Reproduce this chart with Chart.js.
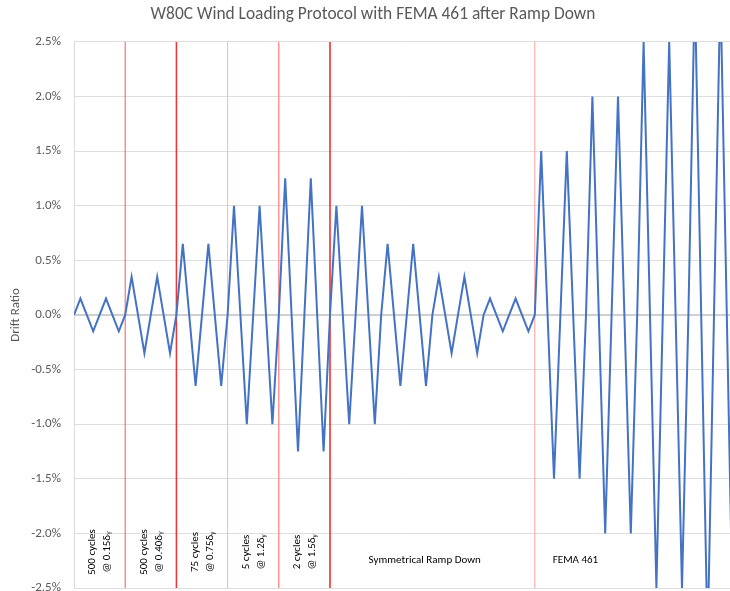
<!DOCTYPE html>
<html>
<head>
<meta charset="utf-8">
<script src="https://cdn.jsdelivr.net/npm/chart.js@4/dist/chart.umd.min.js"></script>
<style>
  html, body { margin: 0; padding: 0; background: #fff; }
  #wrap { width: 730px; height: 591px; position: relative; }
</style>
</head>
<body>
<div id="wrap"><canvas id="protocolChart"></canvas></div>
<script>
// ---- data (drift ratio in %, one value per quarter cycle) ----
const drift = [
  // 500 cycles @ 0.15
  0, 0.15, 0, -0.15, 0, 0.15, 0, -0.15,
  // 500 cycles @ 0.40
  0, 0.35, 0, -0.35, 0, 0.35, 0, -0.35,
  // 75 cycles @ 0.75
  0, 0.65, 0, -0.65, 0, 0.65, 0, -0.65,
  // 5 cycles @ 1.2
  0, 1.0, 0, -1.0, 0, 1.0, 0, -1.0,
  // 2 cycles @ 1.5
  0, 1.25, 0, -1.25, 0, 1.25, 0, -1.25,
  // symmetrical ramp down
  0, 1.0, 0, -1.0, 0, 1.0, 0, -1.0,
  0, 0.65, 0, -0.65, 0, 0.65, 0, -0.65,
  0, 0.35, 0, -0.35, 0, 0.35, 0, -0.35,
  0, 0.15, 0, -0.15, 0, 0.15, 0, -0.15,
  // FEMA 461
  0, 1.5, 0, -1.5, 0, 1.5, 0, -1.5,
  0, 2.0, 0, -2.0, 0, 2.0, 0, -2.0,
  0, 2.5, 0, -2.5, 0, 2.5, 0, -2.5,
  0, 3.0, 0, -3.0, 0, 3.0, 0, -3.0,
  0
];
const quarterStep = 0.25;          // cycles per data point
const xMaxCycles = 25.625;         // visible end of the time axis

// section boundaries (in cycles)
const boundaries = [2, 4, 6, 8, 10, 18];
const boundaryColors = ['rgba(240,60,60,0.85)', '#ee3333', '#ffb2b2', '#ff7a7a', '#ee2222', '#ff9e9e'];
const boundaryWidths = [1, 1.5, 1, 1.2, 1.5, 1];

// rotated stage labels: centre (cycles), line 1, line 2 and its subscript
const stageCenters = [1, 3, 5, 7, 9];
const stageLine1 = ['500 cycles', '500 cycles', '75 cycles', '5 cycles', '2 cycles'];
const stageLine2 = ['@ 0.15\u03B4', '@ 0.40\u03B4', '@ 0.75\u03B4', '@ 1.2\u03B4', '@ 1.5\u03B4'];
const stageSub = ['Y', 'Y', 'y', 'y', 'y'];
const stageLabelY = -2.17;

// horizontal stage labels
const flatLabels = ['Symmetrical Ramp Down', 'FEMA 461'];
const flatX = [13.7, 18.7];
const flatAlign = ['center', 'left'];
const flatLabelY = -2.25;

const yTicksMin = -2.5, yTicksMax = 2.5, yStep = 0.5;

const FONT = 'Carlito, Calibri, Lato, sans-serif';
const GREY = '#595959';

const points = drift.map((v, i) => ({ x: i * quarterStep, y: v }));

const sectionLinesPlugin = {
  id: 'sectionLines',
  // nudge the chart title so it sits a little right of the canvas centre, like the original
  afterLayout(ci) {
    if (ci.titleBlock) ci.titleBlock.left += 16;
  },
  beforeDatasetsDraw(ci) {
    const { ctx, chartArea: ca, scales: { x } } = ci;
    ctx.save();
    boundaries.forEach((b, i) => {
      const px = x.getPixelForValue(b);
      ctx.beginPath();
      ctx.strokeStyle = boundaryColors[i];
      ctx.lineWidth = boundaryWidths[i];
      ctx.moveTo(px, ca.top);
      ctx.lineTo(px, ca.bottom);
      ctx.stroke();
    });
    ctx.restore();
  }
};

const stageLabelsPlugin = {
  id: 'stageLabels',
  afterDatasetsDraw(ci) {
    const { ctx, scales: { x, y } } = ci;
    ctx.save();
    ctx.fillStyle = '#000';
    ctx.textBaseline = 'middle';

    // rotated two-line labels
    stageCenters.forEach((c, i) => {
      const cx = x.getPixelForValue(c) + 0.5;
      const cy = y.getPixelForValue(stageLabelY);
      ctx.save();
      ctx.translate(cx, cy);
      ctx.rotate(-Math.PI / 2);
      ctx.font = `11px ${FONT}`;
      ctx.textAlign = 'center';
      ctx.fillText(stageLine1[i], 0, -7.5);
      const w1 = ctx.measureText(stageLine2[i]).width;
      ctx.font = `7px ${FONT}`;
      const w2 = ctx.measureText(stageSub[i]).width;
      const u0 = -(w1 + w2) / 2;
      ctx.textAlign = 'left';
      ctx.font = `11px ${FONT}`;
      ctx.fillText(stageLine2[i], u0, 7.5);
      ctx.font = `7px ${FONT}`;
      ctx.fillText(stageSub[i], u0 + w1, 10.5);
      ctx.restore();
    });

    // horizontal labels
    ctx.font = `11px ${FONT}`;
    flatLabels.forEach((t, i) => {
      ctx.textAlign = flatAlign[i];
      ctx.fillText(t, x.getPixelForValue(flatX[i]), y.getPixelForValue(flatLabelY));
    });
    ctx.restore();
  }
};

new Chart(document.getElementById('protocolChart').getContext('2d'), {
  type: 'line',
  data: {
    datasets: [{
      data: points,
      parsing: false,
      borderColor: '#4472C4',
      borderWidth: 2,
      pointRadius: 0,
      tension: 0,
      fill: false,
      clip: 0
    }]
  },
  options: {
    responsive: true,
    maintainAspectRatio: false,
    animation: false,
    layout: { padding: { left: 0, right: 0, top: 0, bottom: 3 } },
    scales: {
      x: { type: 'linear', min: 0, max: xMaxCycles, display: false },
      y: {
        min: yTicksMin,
        max: yTicksMax,
        ticks: {
          stepSize: yStep,
          color: GREY,
          font: { family: FONT, size: 13 },
          padding: 13,
          callback: (v) => v.toFixed(1) + '%'
        },
        grid: {
          drawTicks: false,
          color: (c) => (c.tick && c.tick.value === 0) ? '#cfcfcf' : '#dedede',
          lineWidth: (c) => (c.tick && c.tick.value === 0) ? 2 : 1
        },
        border: { color: '#d9d9d9' },
        title: {
          display: true,
          text: 'Drift Ratio',
          color: GREY,
          font: { family: FONT, size: 13 },
          padding: { top: 8, bottom: 0 }
        },
        afterFit(scale) {
          scale.width = 74;
          scale.paddingTop = 0;
          scale.paddingBottom = 0;
        }
      }
    },
    plugins: {
      legend: { display: false },
      tooltip: { enabled: false },
      title: {
        display: true,
        text: 'W80C Wind Loading Protocol with FEMA 461 after Ramp Down',
        color: GREY,
        font: { family: FONT, size: 17.4, weight: 'normal' },
        padding: { top: 4.5, bottom: 16.5 }
      }
    }
  },
  plugins: [sectionLinesPlugin, stageLabelsPlugin]
});
</script>
</body>
</html>
